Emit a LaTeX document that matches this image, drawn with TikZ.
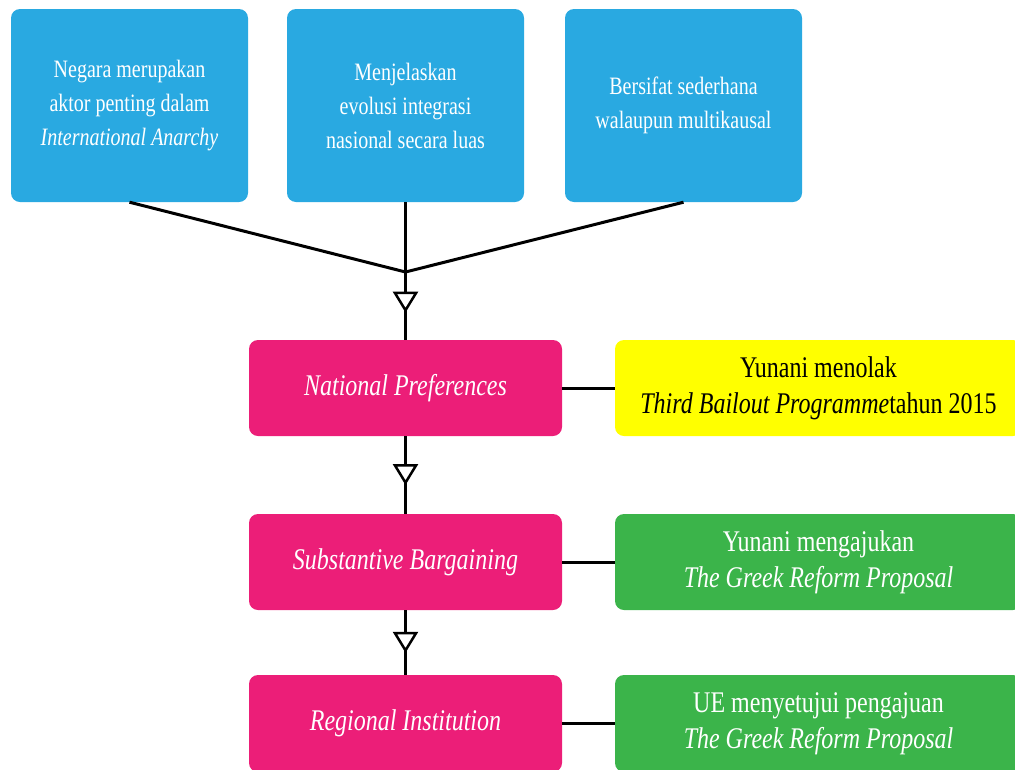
\documentclass[tikz,border=0pt]{standalone}
\usepackage{fontspec}
\setmainfont{Liberation Serif}[FakeStretch=0.8]
\usetikzlibrary{arrows.meta,decorations.markings}
\definecolor{cblue}{HTML}{29A9E1}
\definecolor{cpink}{HTML}{EC1E78}
\definecolor{cyel}{HTML}{FFFF00}
\definecolor{cgreen}{HTML}{3BB44A}
\tikzset{
  bluebox/.style={fill=cblue, rounded corners=9pt, minimum width=237pt, minimum height=193pt,
    text=white, align=center, font=\fontsize{25}{34}\selectfont, inner sep=0pt},
  pinkbox/.style={fill=cpink, rounded corners=9pt, minimum width=313pt, minimum height=96pt,
    text=white, align=center, font=\fontsize{30}{36}\selectfont\itshape, inner sep=0pt},
  sidebox/.style={rounded corners=9pt, minimum width=407pt, minimum height=96pt,
    align=center, font=\fontsize{30}{36}\selectfont, inner sep=0pt},
  conn/.style={line width=3pt, black},
  tri/.style={postaction={decorate, decoration={markings,
    mark=at position #1 with {\arrow{Triangle[width=25pt,length=21pt,fill=white,line width=2.5pt]}}}}}
}
\begin{document}
\begin{tikzpicture}[x=1pt,y=-1pt]
\useasboundingbox (0,0) rectangle (1015,769);
\node[bluebox] (b1) at (129.5,105.5) {\raisebox{0pt}[0pt][0pt]{}Negara merupakan\\aktor penting dalam\\\textit{International Anarchy}};
\node[bluebox] (b2) at (405.5,105.5) {Menjelaskan\\evolusi integrasi\\nasional secara luas};
\node[bluebox] (b3) at (683.5,105.5) {Bersifat sederhana\\walaupun multikausal};
\coordinate (j) at (405.5,272);
\node[pinkbox] (p1) at (405.5,388) {National Preferences};
\node[pinkbox] (p2) at (405.5,562) {Substantive Bargaining};
\node[pinkbox, minimum height=97pt] (p3) at (405.5,723.5) {Regional Institution};
\node[sidebox, fill=cyel, text=black] (s1) at (818.5,388) {Yunani menolak\\\textit{Third Bailout Programme}tahun 2015};
\node[sidebox, fill=cgreen, text=white] (s2) at (818.5,562) {Yunani mengajukan\\\textit{The Greek Reform Proposal}};
\node[sidebox, fill=cgreen, text=white, minimum height=97pt] (s3) at (818.5,723.5) {UE menyetujui pengajuan\\\textit{The Greek Reform Proposal}};
\draw[conn] (b1.south) -- (j);
\draw[conn] (b3.south) -- (j);
\draw[conn] (b2.south) -- (j);
\draw[conn, tri=0.6] (j) -- (p1.north);
\draw[conn, tri=0.63] (p1.south) -- (p2.north);
\draw[conn, tri=0.66] (p2.south) -- (p3.north);
\draw[conn] (p1.east) -- (s1.west);
\draw[conn] (p2.east) -- (s2.west);
\draw[conn] (p3.east) -- (s3.west);
\end{tikzpicture}
\end{document}
